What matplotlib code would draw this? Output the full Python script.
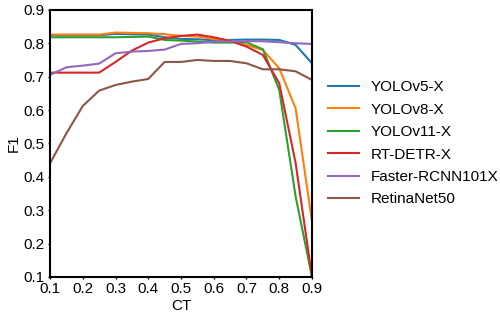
import matplotlib
matplotlib.use('Agg')
import matplotlib.pyplot as plt

ct = [0.1, 0.15, 0.2, 0.25, 0.3, 0.35, 0.4, 0.45, 0.5, 0.55, 0.6, 0.65, 0.7, 0.75, 0.8, 0.85, 0.9]

yolov5 = [0.824, 0.824, 0.824, 0.824, 0.828, 0.827, 0.826, 0.818, 0.813, 0.812, 0.809, 0.810, 0.811, 0.811, 0.810, 0.795, 0.740]
yolov8 = [0.826, 0.826, 0.826, 0.826, 0.832, 0.831, 0.830, 0.827, 0.822, 0.820, 0.813, 0.808, 0.795, 0.780, 0.725, 0.605, 0.266]
yolov11 = [0.818, 0.818, 0.818, 0.818, 0.818, 0.819, 0.820, 0.810, 0.808, 0.805, 0.802, 0.802, 0.803, 0.782, 0.660, 0.341, 0.100]
rtdetr = [0.712, 0.712, 0.712, 0.712, 0.744, 0.778, 0.802, 0.815, 0.822, 0.826, 0.818, 0.807, 0.790, 0.765, 0.680, 0.441, 0.100]
faster = [0.705, 0.728, 0.733, 0.739, 0.770, 0.775, 0.777, 0.781, 0.798, 0.800, 0.805, 0.805, 0.806, 0.806, 0.803, 0.800, 0.798]
retina = [0.440, 0.530, 0.612, 0.658, 0.675, 0.685, 0.693, 0.744, 0.744, 0.750, 0.747, 0.747, 0.740, 0.722, 0.722, 0.716, 0.690]

series = [
    ('YOLOv5-X', yolov5, '#1f77b4'),
    ('YOLOv8-X', yolov8, '#ff7f0e'),
    ('YOLOv11-X', yolov11, '#2ca02c'),
    ('RT-DETR-X', rtdetr, '#d62728'),
    ('Faster-RCNN101X', faster, '#9467bd'),
    ('RetinaNet50', retina, '#8c564b'),
]

plt.rcParams['font.family'] = ['Liberation Sans', 'DejaVu Sans']
plt.rcParams['font.size'] = 11

fig = plt.figure(figsize=(5.0, 3.19), dpi=100)
ax = fig.add_axes([0.10, 0.132, 0.524, 0.837])

for name, vals, color in series:
    ax.plot(ct, vals, color=color, lw=1.5, label=name)

ax.set_xlim(0.1, 0.9)
ax.set_ylim(0.1, 0.9)
ax.set_xticks([0.1, 0.2, 0.3, 0.4, 0.5, 0.6, 0.7, 0.8, 0.9])
ax.set_yticks([0.1, 0.2, 0.3, 0.4, 0.5, 0.6, 0.7, 0.8, 0.9])
ax.set_xlabel('CT', labelpad=2)
ax.set_ylabel('F1', labelpad=2)
for sp in ax.spines.values():
    sp.set_linewidth(1.5)
ax.tick_params(width=1.0, length=1.5, pad=2.5)

ax.legend(loc='center left', bbox_to_anchor=(1.01, 0.5), frameon=False,
          handlelength=2.0, labelspacing=0.55)

fig.savefig('out.png', dpi=100)
